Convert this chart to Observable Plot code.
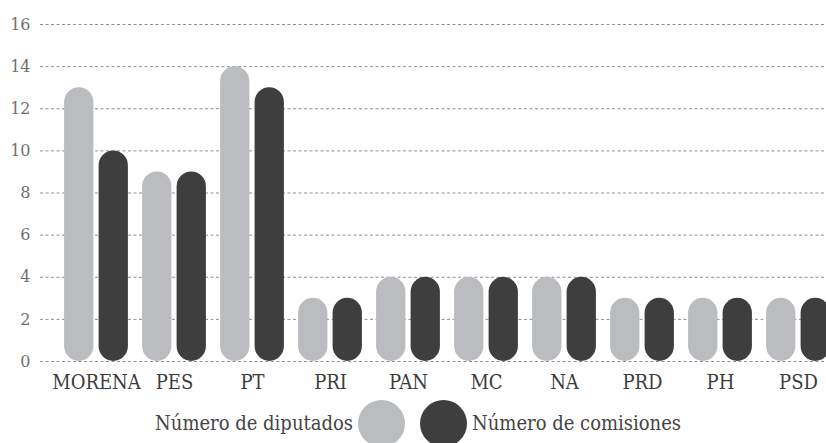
<!DOCTYPE html>
<html>
<head>
<meta charset="utf-8">
<script src="https://cdn.jsdelivr.net/npm/d3@7"></script>
<script src="https://cdn.jsdelivr.net/npm/@observablehq/plot@0.6"></script>
<style>
  html, body { margin: 0; padding: 0; background: #fff; }
  body { width: 826px; height: 443px; overflow: hidden; font-family: "DejaVu Serif Condensed", "DejaVu Serif", serif; }
  #legend { position: relative; height: 48px; }
  .lg-text { position: absolute; top: 0; font-size: 20px; color: #444; line-height: 1; }
  .lg-dot { position: absolute; top: 5px; width: 47px; height: 47px; border-radius: 50%; }
</style>
</head>
<body>
<div id="chart"></div>
<div id="legend"></div>
<script>
const parties = ["MORENA", "PES", "PT", "PRI", "PAN", "MC", "NA", "PRD", "PH", "PSD"];
const diputados = [13, 9, 14, 3, 4, 4, 4, 3, 3, 3];
const comisiones = [10, 9, 13, 3, 4, 4, 4, 3, 3, 3];
const yTicks = [0, 2, 4, 6, 8, 10, 12, 14, 16];
const seriesNames = ["Número de diputados", "Número de comisiones"];
const seriesColors = ["#bbbcc0", "#3e3e3e"];

const dataDip = parties.map((p, i) => ({party: p, value: diputados[i]}));
const dataCom = parties.map((p, i) => ({party: p, value: comisiones[i]}));

const chart = Plot.plot({
  width: 826,
  height: 395,
  marginLeft: 40,
  marginRight: 0,
  marginTop: 24,
  marginBottom: 34,
  style: {fontFamily: '"DejaVu Serif Condensed", "DejaVu Serif", serif', background: "#fff", overflow: "visible"},
  x: {domain: parties, range: [56.2, 838.2], padding: 0, label: null},
  y: {domain: [0, 16], label: null},
  marks: [
    Plot.ruleY(yTicks, {stroke: "#8f8f8f", strokeWidth: 1, strokeDasharray: "3,2.5"}),
    Plot.barY(dataDip, {x: "party", y: "value", fill: seriesColors[0], insetLeft: 7.1, insetRight: 41.6, rx: 15}),
    Plot.barY(dataCom, {x: "party", y: "value", fill: seriesColors[1], insetLeft: 41.6, insetRight: 7.1, rx: 15}),
    Plot.axisY({ticks: yTicks, tickSize: 0, tickPadding: 10, fontSize: 16, fontFamily: '"DejaVu Serif", serif', fill: "#707070", label: null}),
    Plot.axisX({tickSize: 0, tickPadding: 13, fontSize: 20, fill: "#3c3c3c", label: null})
  ]
});
document.getElementById("chart").appendChild(chart);

const legend = document.getElementById("legend");
const t1 = document.createElement("div");
t1.className = "lg-text";
t1.textContent = seriesNames[0];
t1.style.right = (826 - 353) + "px";
t1.style.top = "18px";
legend.appendChild(t1);
const d1 = document.createElement("div");
d1.className = "lg-dot";
d1.style.left = "358px";
d1.style.background = seriesColors[0];
legend.appendChild(d1);
const d2 = document.createElement("div");
d2.className = "lg-dot";
d2.style.left = "420px";
d2.style.background = seriesColors[1];
legend.appendChild(d2);
const t2 = document.createElement("div");
t2.className = "lg-text";
t2.textContent = seriesNames[1];
t2.style.left = "472px";
t2.style.top = "18px";
legend.appendChild(t2);
</script>
</body>
</html>
